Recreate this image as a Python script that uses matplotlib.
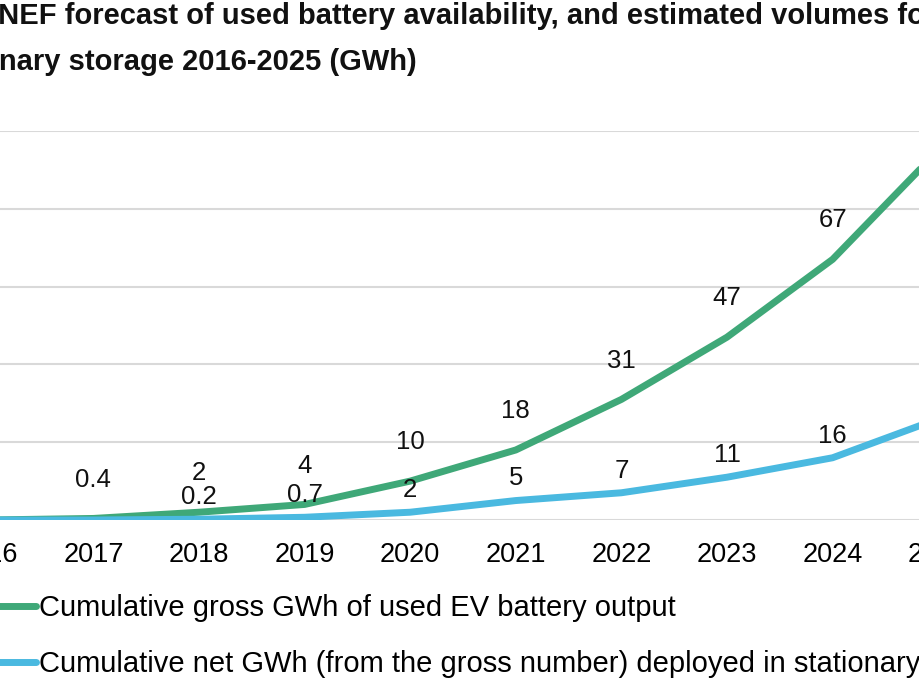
import matplotlib
matplotlib.use("Agg")
import matplotlib.pyplot as plt

plt.rcParams['font.family'] = ['Liberation Sans', 'DejaVu Sans']

# BNEF forecast, GWh
years = [2016, 2017, 2018, 2019, 2020, 2021, 2022, 2023, 2024, 2025]
gross = [0, 0.4, 2, 4, 10, 18, 31, 47, 67, 95]
net = [0, 0, 0.2, 0.7, 2, 5, 7, 11, 16, 26]
gross_labels = ['0', '0.4', '2', '4', '10', '18', '31', '47', '67', '95']
net_labels = ['', '', '0.2', '0.7', '2', '5', '7', '11', '16', '26']
series_names = ['Cumulative gross GWh of used EV battery output',
                'Cumulative net GWh (from the gross number) deployed in stationary storage']

green = '#3FA878'
blue = '#4AB9E0'
W, H = 920, 690

fig = plt.figure(figsize=(9.2, 6.9), dpi=100)
# the reference is a crop of a wider chart, so the plot area runs past the edges
ax = fig.add_axes([-65 / W, (H - 520) / H, 1056 / W, 389 / H])
ax.set_xlim(2015.5, 2025.5)
ax.set_ylim(0, 100)
ax.set_yticks([0, 20, 40, 60, 80, 100])
ax.set_yticklabels([])
ax.set_xticks(years)
ax.set_xticklabels([str(y) for y in years])
ax.tick_params(axis='x', length=0, pad=16, labelsize=19.5)
ax.tick_params(axis='y', length=0)
ax.grid(axis='y', color='#d9d9d9', linewidth=1.5)
ax.set_axisbelow(True)
for s in ax.spines.values():
    s.set_visible(False)

l1, = ax.plot(years, gross, color=green, linewidth=5, solid_capstyle='round')
l2, = ax.plot(years, net, color=blue, linewidth=5, solid_capstyle='round')

for x, y, t in zip(years, gross, gross_labels):
    ax.annotate(t, (x, y), xytext=(0, 28), textcoords='offset points',
                ha='center', va='center', fontsize=18.5, color='#111111')
for x, y, t in zip(years, net, net_labels):
    if t:
        ax.annotate(t, (x, y), xytext=(0, 16), textcoords='offset points',
                    ha='center', va='center', fontsize=18.5, color='#111111')

# title (cropped on both sides in the reference)
fig.text(-23 / W, 1 - 16 / H,
         'BNEF forecast of used battery availability, and estimated volumes for',
         ha='left', va='center', fontsize=21, fontweight='bold', color='#111111')
fig.text(417 / W, 1 - 62 / H, 'stationary storage 2016-2025 (GWh)',
         ha='right', va='center', fontsize=21, fontweight='bold', color='#111111')

fig.legend([l1, l2], series_names, loc='upper left',
           bbox_to_anchor=(-22 / W, 1 - 594 / H), frameon=False,
           fontsize=21, handlelength=2.0, handletextpad=0.1,
           labelspacing=0.95, borderaxespad=0, borderpad=0)

fig.savefig('out.png', dpi=100)
